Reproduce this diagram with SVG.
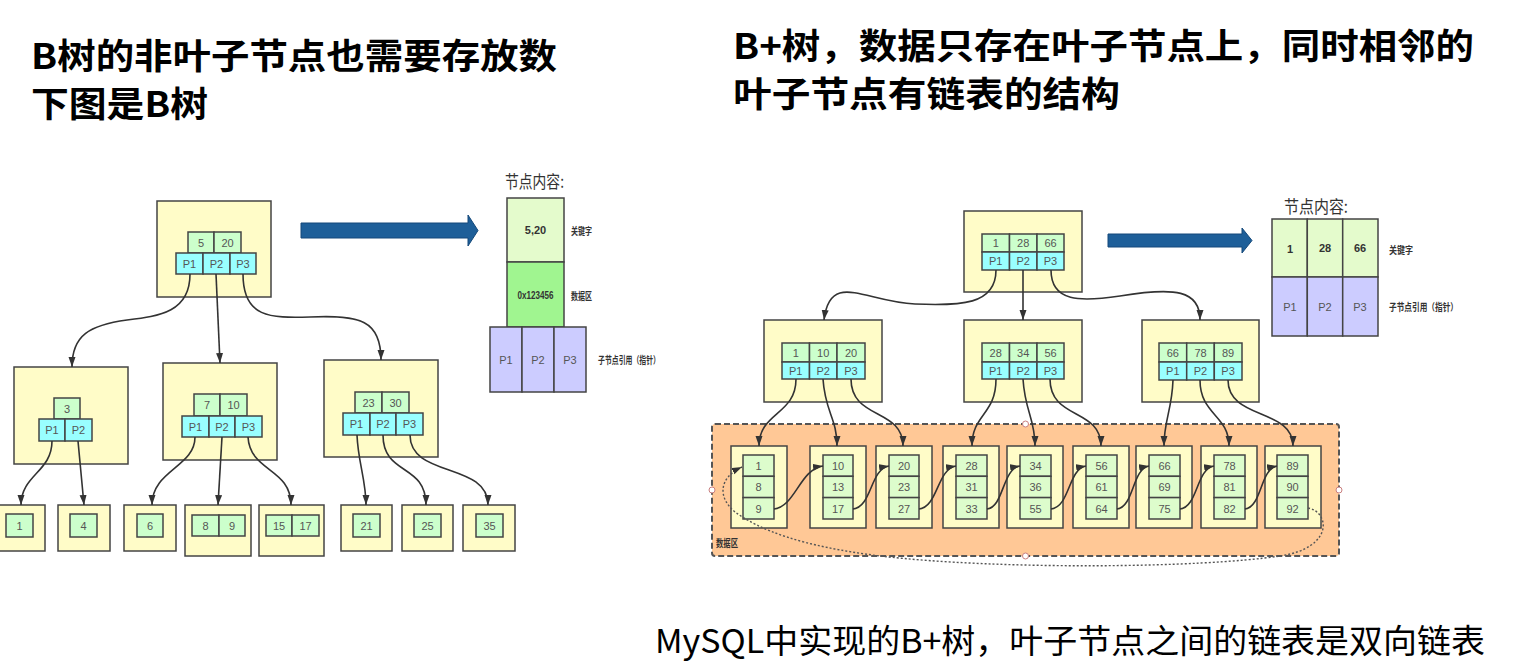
<svg xmlns="http://www.w3.org/2000/svg" width="1525" height="672" viewBox="0 0 1525 672">
<defs>
<marker id="arr" markerUnits="userSpaceOnUse" markerWidth="11" markerHeight="8" refX="10" refY="3.5" orient="auto">
<path d="M0,0 L10,3.5 L0,7 z" fill="#333"/>
</marker>
<style>
.bg{fill:#ffffff}
.node{fill:#fffcc8;stroke:#444;stroke-width:1.5}
.key{fill:#ccffcc;stroke:#444;stroke-width:1.5}
.ptr{fill:#99ffff;stroke:#444;stroke-width:1.5}
.lc{fill:#ddfccc;stroke:#444;stroke-width:1.5}
.t{font-family:"Liberation Sans Narrow","Liberation Sans",Arial,sans-serif;font-stretch:condensed;font-size:11px;fill:#555;text-anchor:middle;dominant-baseline:central}
.tb{font-family:"Liberation Sans Narrow","Liberation Sans",Arial,sans-serif;font-size:11px;font-weight:bold;fill:#333;text-anchor:middle;dominant-baseline:central}
.lab{font-family:"Noto Sans CJK SC",sans-serif;font-size:10px;font-weight:bold;fill:#333}
.cap{font-family:"Noto Sans CJK SC",sans-serif;font-size:17px;fill:#333}
.h{font-family:"Noto Sans CJK SC",sans-serif;font-size:35px;font-weight:bold;fill:#000}
.foot{font-family:"Noto Sans CJK SC",sans-serif;font-size:33px;fill:#000}
.conn{fill:none;stroke:#333;stroke-width:1.6;marker-end:url(#arr)}
.blue{fill:#1e5f99;stroke:#15497a;stroke-width:1}
.hd{fill:#fff;stroke:#c98080;stroke-width:1}
</style>
</defs>
<rect class="bg" x="0" y="0" width="1525" height="672"/>

<!-- headings -->
<g id="headings">
<text class="h" x="31" y="69" textLength="526" lengthAdjust="spacingAndGlyphs">B树的非叶子节点也需要存放数</text>
<text class="h" x="31" y="117" textLength="177" lengthAdjust="spacingAndGlyphs">下图是B树</text>
<text class="h" x="733" y="59" textLength="741" lengthAdjust="spacingAndGlyphs">B+树，数据只存在叶子节点上，同时相邻的</text>
<text class="h" x="733" y="107" textLength="387" lengthAdjust="spacingAndGlyphs">叶子节点有链表的结构</text>
<text class="foot" x="655" y="653" textLength="830" lengthAdjust="spacingAndGlyphs">MySQL中实现的B+树，叶子节点之间的链表是双向链表</text>
</g>

<!-- ===== Left: B tree ===== -->
<g id="b-root">
<rect class="node" x="157" y="201" width="114" height="96"/>
<rect class="key" x="188" y="232" width="26" height="21"/><text class="t" x="201" y="243">5</text>
<rect class="key" x="214" y="232" width="27" height="21"/><text class="t" x="227.5" y="243">20</text>
<rect class="ptr" x="176" y="253" width="27" height="21"/><text class="t" x="189.5" y="264">P1</text>
<rect class="ptr" x="203" y="253" width="27" height="21"/><text class="t" x="216.5" y="264">P2</text>
<rect class="ptr" x="230" y="253" width="26" height="21"/><text class="t" x="243" y="264">P3</text>
</g>
<g id="b-n1">
<rect class="node" x="14" y="367" width="114" height="97"/>
<rect class="key" x="54" y="398" width="26" height="21"/><text class="t" x="67" y="409">3</text>
<rect class="ptr" x="39" y="419" width="26" height="22"/><text class="t" x="52" y="430">P1</text>
<rect class="ptr" x="65" y="419" width="27" height="22"/><text class="t" x="78.5" y="430">P2</text>
</g>
<g id="b-n2">
<rect class="node" x="163" y="363" width="114" height="97"/>
<rect class="key" x="194" y="394" width="26" height="22"/><text class="t" x="207" y="405">7</text>
<rect class="key" x="220" y="394" width="27" height="22"/><text class="t" x="233.5" y="405">10</text>
<rect class="ptr" x="182" y="416" width="27" height="21"/><text class="t" x="195.5" y="427">P1</text>
<rect class="ptr" x="209" y="416" width="26" height="21"/><text class="t" x="222" y="427">P2</text>
<rect class="ptr" x="235" y="416" width="27" height="21"/><text class="t" x="248.5" y="427">P3</text>
</g>
<g id="b-n3">
<rect class="node" x="324" y="360" width="114" height="97"/>
<rect class="key" x="355" y="392" width="27" height="21"/><text class="t" x="368.5" y="403">23</text>
<rect class="key" x="382" y="392" width="27" height="21"/><text class="t" x="395.5" y="403">30</text>
<rect class="ptr" x="343" y="413" width="27" height="22"/><text class="t" x="356.5" y="424">P1</text>
<rect class="ptr" x="370" y="413" width="26" height="22"/><text class="t" x="383" y="424">P2</text>
<rect class="ptr" x="396" y="413" width="27" height="22"/><text class="t" x="409.5" y="424">P3</text>
</g>
<g id="b-leaf1"><rect class="node" x="-2" y="505" width="47" height="46"/><rect class="key" x="6" y="514" width="27" height="23"/><text class="t" x="19.5" y="525.5">1</text></g>
<g id="b-leaf4"><rect class="node" x="58" y="505" width="52" height="46"/><rect class="key" x="70" y="514" width="27" height="23"/><text class="t" x="83.5" y="525.5">4</text></g>
<g id="b-leaf6"><rect class="node" x="124" y="505" width="52" height="46"/><rect class="key" x="137" y="514" width="26" height="23"/><text class="t" x="150" y="525.5">6</text></g>
<g id="b-leaf89"><rect class="node" x="185" y="505" width="66" height="51"/><rect class="key" x="192" y="515" width="27" height="21"/><text class="t" x="205.5" y="525.5">8</text><rect class="key" x="219" y="515" width="26" height="21"/><text class="t" x="232" y="525.5">9</text></g>
<g id="b-leaf1517"><rect class="node" x="259" y="505" width="65" height="51"/><rect class="key" x="266" y="515" width="26" height="21"/><text class="t" x="279" y="525.5">15</text><rect class="key" x="292" y="515" width="27" height="21"/><text class="t" x="305.5" y="525.5">17</text></g>
<g id="b-leaf21"><rect class="node" x="341" y="505" width="51" height="46"/><rect class="key" x="353" y="514" width="27" height="23"/><text class="t" x="366.5" y="525.5">21</text></g>
<g id="b-leaf25"><rect class="node" x="402" y="505" width="51" height="46"/><rect class="key" x="414" y="514" width="27" height="23"/><text class="t" x="427.5" y="525.5">25</text></g>
<g id="b-leaf35"><rect class="node" x="463" y="505" width="52" height="46"/><rect class="key" x="476" y="514" width="27" height="23"/><text class="t" x="489.5" y="525.5">35</text></g>

<g id="b-bigarrow"><path class="blue" d="M301,223 L468,223 L468,215 L478,230.5 L468,246 L468,238 L301,238 z"/></g>

<g id="b-content">
<text class="cap" x="505" y="188" textLength="59" lengthAdjust="spacingAndGlyphs">节点内容:</text>
<rect x="507" y="198" width="57" height="64" fill="#e4fbcc" stroke="#444" stroke-width="1.5"/>
<text class="tb" x="535.5" y="230">5,20</text>
<rect x="507" y="262" width="57" height="65" fill="#a0f590" stroke="#444" stroke-width="1.5"/>
<text class="tb" x="535.5" y="295" textLength="36" lengthAdjust="spacingAndGlyphs">0x123456</text>
<rect x="490" y="327" width="32" height="65" fill="#ccccff" stroke="#444" stroke-width="1.5"/>
<rect x="522" y="327" width="32" height="65" fill="#ccccff" stroke="#444" stroke-width="1.5"/>
<rect x="554" y="327" width="32" height="65" fill="#ccccff" stroke="#444" stroke-width="1.5"/>
<text class="t" x="506" y="360">P1</text><text class="t" x="538" y="360">P2</text><text class="t" x="570" y="360">P3</text>
<text class="lab" x="571" y="235" textLength="21" lengthAdjust="spacingAndGlyphs">关键字</text>
<text class="lab" x="571" y="300" textLength="21" lengthAdjust="spacingAndGlyphs">数据区</text>
<text class="lab" x="598" y="364" textLength="62" lengthAdjust="spacingAndGlyphs">子节点引用（指针）</text>
</g>

<!-- ===== Right: B+ tree ===== -->
<g id="bp-area">
<rect x="712" y="424" width="627" height="132" rx="3" fill="#ffc896" stroke="#555" stroke-width="2" stroke-dasharray="6,3"/>
<circle class="hd" cx="712" cy="490" r="3"/><circle class="hd" cx="1025.5" cy="424" r="3"/><circle class="hd" cx="1025.5" cy="556" r="3"/><circle class="hd" cx="1339" cy="490" r="3"/>
<text class="lab" x="716" y="547" font-weight="normal" textLength="22" lengthAdjust="spacingAndGlyphs">数据区</text>
</g>
<g id="bp-root">
<rect class="node" x="964" y="211" width="118" height="81"/>
<rect class="key" x="982" y="234" width="27.5" height="18"/><text class="t" x="995.7" y="243">1</text>
<rect class="key" x="1009.5" y="234" width="27.5" height="18"/><text class="t" x="1023.2" y="243">28</text>
<rect class="key" x="1037" y="234" width="27" height="18"/><text class="t" x="1050.5" y="243">66</text>
<rect class="ptr" x="982" y="252" width="27.5" height="18"/><text class="t" x="995.7" y="261">P1</text>
<rect class="ptr" x="1009.5" y="252" width="27.5" height="18"/><text class="t" x="1023.2" y="261">P2</text>
<rect class="ptr" x="1037" y="252" width="27" height="18"/><text class="t" x="1050.5" y="261">P3</text>
</g>
<g id="bp-m1">
<rect class="node" x="764" y="320" width="118" height="82"/>
<rect class="key" x="782" y="343" width="27.5" height="19"/><text class="t" x="795.7" y="352.5">1</text>
<rect class="key" x="809.5" y="343" width="27.5" height="19"/><text class="t" x="823.2" y="352.5">10</text>
<rect class="key" x="837" y="343" width="28" height="19"/><text class="t" x="851" y="352.5">20</text>
<rect class="ptr" x="782" y="362" width="27.5" height="17"/><text class="t" x="795.7" y="370.5">P1</text>
<rect class="ptr" x="809.5" y="362" width="27.5" height="17"/><text class="t" x="823.2" y="370.5">P2</text>
<rect class="ptr" x="837" y="362" width="28" height="17"/><text class="t" x="851" y="370.5">P3</text>
</g>
<g id="bp-m2">
<rect class="node" x="964" y="320" width="118" height="82"/>
<rect class="key" x="982" y="343" width="27.5" height="19"/><text class="t" x="995.7" y="352.5">28</text>
<rect class="key" x="1009.5" y="343" width="27.5" height="19"/><text class="t" x="1023.2" y="352.5">34</text>
<rect class="key" x="1037" y="343" width="27" height="19"/><text class="t" x="1050.5" y="352.5">56</text>
<rect class="ptr" x="982" y="362" width="27.5" height="17"/><text class="t" x="995.7" y="370.5">P1</text>
<rect class="ptr" x="1009.5" y="362" width="27.5" height="17"/><text class="t" x="1023.2" y="370.5">P2</text>
<rect class="ptr" x="1037" y="362" width="27" height="17"/><text class="t" x="1050.5" y="370.5">P3</text>
</g>
<g id="bp-m3">
<rect class="node" x="1142" y="320" width="117" height="82"/>
<rect class="key" x="1159" y="343" width="27.7" height="19"/><text class="t" x="1172.8" y="352.5">66</text>
<rect class="key" x="1186.7" y="343" width="27.6" height="19"/><text class="t" x="1200.5" y="352.5">78</text>
<rect class="key" x="1214.3" y="343" width="27.7" height="19"/><text class="t" x="1228.1" y="352.5">89</text>
<rect class="ptr" x="1159" y="362" width="27.7" height="18"/><text class="t" x="1172.8" y="371">P1</text>
<rect class="ptr" x="1186.7" y="362" width="27.6" height="18"/><text class="t" x="1200.5" y="371">P2</text>
<rect class="ptr" x="1214.3" y="362" width="27.7" height="18"/><text class="t" x="1228.1" y="371">P3</text>
</g>

<g id="bp-leaf1"><rect class="node" x="731" y="446" width="56" height="82"/>
<rect class="lc" x="743" y="455" width="31" height="21.3"/><rect class="lc" x="743" y="476.3" width="31" height="21.3"/><rect class="lc" x="743" y="497.6" width="31" height="21.4"/>
<text class="t" x="758.5" y="466">1</text><text class="t" x="758.5" y="487">8</text><text class="t" x="758.5" y="508.5">9</text></g>
<g id="bp-leaf2"><rect class="node" x="810" y="446" width="56" height="82"/>
<rect class="lc" x="823" y="455" width="30" height="21.3"/><rect class="lc" x="823" y="476.3" width="30" height="21.3"/><rect class="lc" x="823" y="497.6" width="30" height="21.4"/>
<text class="t" x="838" y="466">10</text><text class="t" x="838" y="487">13</text><text class="t" x="838" y="508.5">17</text></g>
<g id="bp-leaf3"><rect class="node" x="876" y="446" width="56" height="82"/>
<rect class="lc" x="889" y="455" width="30" height="21.3"/><rect class="lc" x="889" y="476.3" width="30" height="21.3"/><rect class="lc" x="889" y="497.6" width="30" height="21.4"/>
<text class="t" x="904" y="466">20</text><text class="t" x="904" y="487">23</text><text class="t" x="904" y="508.5">27</text></g>
<g id="bp-leaf4"><rect class="node" x="943" y="446" width="56" height="82"/>
<rect class="lc" x="956" y="455" width="31" height="21.3"/><rect class="lc" x="956" y="476.3" width="31" height="21.3"/><rect class="lc" x="956" y="497.6" width="31" height="21.4"/>
<text class="t" x="971.5" y="466">28</text><text class="t" x="971.5" y="487">31</text><text class="t" x="971.5" y="508.5">33</text></g>
<g id="bp-leaf5"><rect class="node" x="1007" y="446" width="56" height="82"/>
<rect class="lc" x="1020" y="455" width="31" height="21.3"/><rect class="lc" x="1020" y="476.3" width="31" height="21.3"/><rect class="lc" x="1020" y="497.6" width="31" height="21.4"/>
<text class="t" x="1035.5" y="466">34</text><text class="t" x="1035.5" y="487">36</text><text class="t" x="1035.5" y="508.5">55</text></g>
<g id="bp-leaf6"><rect class="node" x="1073" y="446" width="56" height="82"/>
<rect class="lc" x="1086" y="455" width="31" height="21.3"/><rect class="lc" x="1086" y="476.3" width="31" height="21.3"/><rect class="lc" x="1086" y="497.6" width="31" height="21.4"/>
<text class="t" x="1101.5" y="466">56</text><text class="t" x="1101.5" y="487">61</text><text class="t" x="1101.5" y="508.5">64</text></g>
<g id="bp-leaf7"><rect class="node" x="1136" y="446" width="56" height="82"/>
<rect class="lc" x="1149" y="455" width="31" height="21.3"/><rect class="lc" x="1149" y="476.3" width="31" height="21.3"/><rect class="lc" x="1149" y="497.6" width="31" height="21.4"/>
<text class="t" x="1164.5" y="466">66</text><text class="t" x="1164.5" y="487">69</text><text class="t" x="1164.5" y="508.5">75</text></g>
<g id="bp-leaf8"><rect class="node" x="1201" y="446" width="56" height="82"/>
<rect class="lc" x="1214" y="455" width="31" height="21.3"/><rect class="lc" x="1214" y="476.3" width="31" height="21.3"/><rect class="lc" x="1214" y="497.6" width="31" height="21.4"/>
<text class="t" x="1229.5" y="466">78</text><text class="t" x="1229.5" y="487">81</text><text class="t" x="1229.5" y="508.5">82</text></g>
<g id="bp-leaf9"><rect class="node" x="1265" y="446" width="56" height="82"/>
<rect class="lc" x="1277" y="455" width="31" height="21.3"/><rect class="lc" x="1277" y="476.3" width="31" height="21.3"/><rect class="lc" x="1277" y="497.6" width="31" height="21.4"/>
<text class="t" x="1292.5" y="466">89</text><text class="t" x="1292.5" y="487">90</text><text class="t" x="1292.5" y="508.5">92</text></g>

<g id="bp-bigarrow"><path class="blue" d="M1108,234 L1242,234 L1242,228 L1252,240.5 L1242,253 L1242,247 L1108,247 z"/></g>

<g id="bp-content">
<text class="cap" x="1284" y="213" textLength="64" lengthAdjust="spacingAndGlyphs">节点内容:</text>
<rect x="1272" y="219" width="35.3" height="58" fill="#e4fbcc" stroke="#444" stroke-width="1.5"/>
<rect x="1307.3" y="219" width="35.4" height="58" fill="#e4fbcc" stroke="#444" stroke-width="1.5"/>
<rect x="1342.7" y="219" width="35.3" height="58" fill="#e4fbcc" stroke="#444" stroke-width="1.5"/>
<text class="tb" x="1290" y="249">1</text><text class="tb" x="1325" y="248">28</text><text class="tb" x="1360" y="248">66</text>
<rect x="1272" y="277" width="35.3" height="59" fill="#ccccff" stroke="#444" stroke-width="1.5"/>
<rect x="1307.3" y="277" width="35.4" height="59" fill="#ccccff" stroke="#444" stroke-width="1.5"/>
<rect x="1342.7" y="277" width="35.3" height="59" fill="#ccccff" stroke="#444" stroke-width="1.5"/>
<text class="t" x="1290" y="307">P1</text><text class="t" x="1325" y="307">P2</text><text class="t" x="1360" y="307">P3</text>
<text class="lab" x="1389" y="254" textLength="24" lengthAdjust="spacingAndGlyphs">关键字</text>
<text class="lab" x="1389" y="311" textLength="69" lengthAdjust="spacingAndGlyphs">子节点引用（指针）</text>
</g>

<!-- connectors -->
<g id="connectors">
<path class="conn" d="M190,274 C190,312 160,316 127,320 C90,325 72,335 72,367"/>
<path class="conn" d="M216,274 L220,363"/>
<path class="conn" d="M243,274 C243,318 270,318 310,317 C360,315 381,320 381,360"/>
<path class="conn" d="M52,441 C52,472 21,475 21,505"/>
<path class="conn" d="M78,441 L84,505"/>
<path class="conn" d="M195,437 C195,467 152,470 152,505"/>
<path class="conn" d="M222,437 L218,505"/>
<path class="conn" d="M248,437 C250,472 291,468 291,505"/>
<path class="conn" d="M357,435 C358,462 366,480 366,505"/>
<path class="conn" d="M383,435 C383,476 426,463 426,505"/>
<path class="conn" d="M410,435 C410,478 488,462 488,505"/>

<path class="conn" d="M996,270 C996,305 960,306 915,304 C865,302 830,270 824,320"/>
<path class="conn" d="M1023,270 L1023,320"/>
<path class="conn" d="M1051,270 C1051,302 1080,302 1120,296 C1175,287 1200,290 1200,320"/>

<path class="conn" d="M796,379 C796,415 759,412 759,446"/>
<path class="conn" d="M823,379 C825,412 837,418 837,446"/>
<path class="conn" d="M851,379 C851,420 903,408 903,446"/>
<path class="conn" d="M996,379 C996,415 972,414 972,446"/>
<path class="conn" d="M1023,379 C1025,412 1035,418 1035,446"/>
<path class="conn" d="M1050,379 C1050,420 1101,408 1101,446"/>
<path class="conn" d="M1173,380 C1172,410 1164,420 1164,446"/>
<path class="conn" d="M1200,380 C1200,415 1229,415 1229,446"/>
<path class="conn" d="M1228,380 C1228,420 1293,408 1293,446"/>

<path class="conn" d="M774,509 C795,507 800,469 823,466"/>
<path class="conn" d="M853,509 C872,507 870,469 889,466"/>
<path class="conn" d="M919,509 C938,507 937,469 956,466"/>
<path class="conn" d="M987,509 C1004,507 1002,469 1020,466"/>
<path class="conn" d="M1051,509 C1070,507 1068,469 1086,466"/>
<path class="conn" d="M1117,509 C1134,507 1132,469 1149,466"/>
<path class="conn" d="M1180,509 C1198,507 1196,469 1214,466"/>
<path class="conn" d="M1245,509 C1262,507 1260,469 1277,466"/>
<path d="M1308,508 C1330,512 1334,548 1280,556 C1200,568 1000,570 880,556 C800,546 760,530 735,512 C718,498 718,478 742,467" fill="none" stroke="#555" stroke-width="1.4" stroke-dasharray="2,2" marker-end="url(#arr)"/>
</g>
</svg>
